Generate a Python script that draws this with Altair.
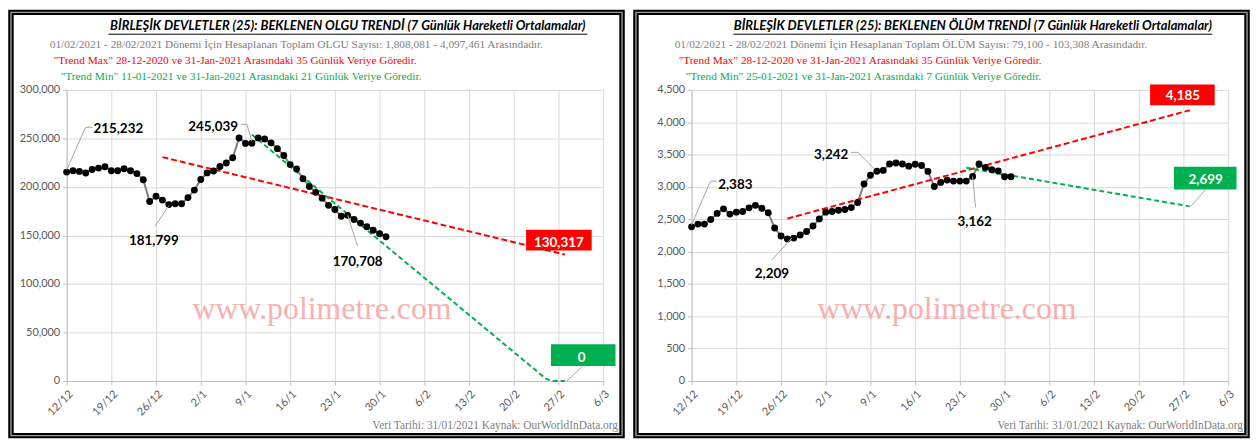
import altair as alt
import pandas as pd

# ---------------- data ----------------
DATES = [d.strftime("%Y-%m-%d") for d in pd.date_range("2020-12-12", "2021-01-31", freq="D")]

CASES = [215232, 216700, 216000, 214300, 218000, 219400, 220700, 216700, 216700, 218700,
         216700, 213700, 207400, 185000, 190400, 186400, 181799, 182700, 182700, 189000,
         196700, 207700, 214400, 216400, 221000, 224700, 230000, 250400, 244800, 245039,
         250400, 249400, 245400, 239400, 232400, 223000, 218400, 208400, 200400, 194400,
         188400, 181000, 176700, 169700, 170708, 166400, 162700, 159000, 155400, 151700,
         148700]

DEATHS = [2383, 2425, 2425, 2496, 2590, 2661, 2580, 2610, 2620, 2676,
          2715, 2670, 2600, 2365, 2241, 2195, 2209, 2256, 2310, 2395,
          2505, 2610, 2620, 2640, 2650, 2680, 2760, 3045, 3180, 3242,
          3255, 3355, 3370, 3355, 3321, 3350, 3330, 3240, 3006, 3070,
          3105, 3090, 3090, 3090, 3162, 3355, 3300, 3265, 3246, 3156,
          3156]

TICK_DATES = ["2020-12-12", "2020-12-19", "2020-12-26", "2021-01-02", "2021-01-09",
              "2021-01-16", "2021-01-23", "2021-01-30", "2021-02-06", "2021-02-13",
              "2021-02-20", "2021-02-27", "2021-03-06"]

CASE_MAX_DATES = ["2020-12-27", "2021-02-28"]
CASE_MAX = [230700, 130317]
CASE_MIN_DATES = ["2021-01-10", "2021-02-25", "2021-02-26", "2021-02-28"]
CASE_MIN = [254000, 2500, 0, 0]

DEATH_MAX_DATES = ["2020-12-27", "2021-02-28"]
DEATH_MAX = [2511, 4185]
DEATH_MIN_DATES = ["2021-01-24", "2021-02-28"]
DEATH_MIN = [3296, 2699]

LABEL_DAYS = ["2020-12-12", "2020-12-28", "2021-01-10", "2021-01-25"]

CASE_TICKS = [0, 50000, 100000, 150000, 200000, 250000, 300000]
DEATH_TICKS = [0, 500, 1000, 1500, 2000, 2500, 3000, 3500, 4000, 4500]

CASE_TEXTS = [
    "BİRLEŞİK DEVLETLER (25):  BEKLENEN OLGU TRENDİ (7 Günlük Hareketli Ortalamalar)",
    "01/02/2021 - 28/02/2021 Dönemi İçin Hesaplanan Toplam OLGU Sayısı: 1,808,081 - 4,097,461 Arasındadır.",
    "\"Trend Max\" 28-12-2020 ve 31-Jan-2021 Arasındaki 35 Günlük Veriye Göredir.",
    "\"Trend Min\" 11-01-2021 ve 31-Jan-2021 Arasındaki 21 Günlük Veriye Göredir.",
]
DEATH_TEXTS = [
    "BİRLEŞİK DEVLETLER (25):  BEKLENEN ÖLÜM TRENDİ (7 Günlük Hareketli Ortalamalar)",
    "01/02/2021 - 28/02/2021 Dönemi İçin Hesaplanan Toplam ÖLÜM Sayısı: 79,100 - 103,308 Arasındadır.",
    "\"Trend Max\" 28-12-2020 ve 31-Jan-2021 Arasındaki 35 Günlük Veriye Göredir.",
    "\"Trend Min\" 25-01-2021 ve 31-Jan-2021 Arasındaki 7 Günlük Veriye Göredir.",
]
FOOTER = "Veri Tarihi: 31/01/2021 Kaynak: OurWorldInData.org"
WATERMARK = "www.polimetre.com"

# ---------------- styles ----------------
W, H = 540, 293
RED, GREEN, GREY = "#ff0000", "#00b050", "#808080"
ONE = pd.DataFrame({"k": [0]})

CASE_LABEL_OFFSETS = [(52, -43), (-15, 37), (-39, -16), (10, 47)]
CASE_LEADERS = [[(0, -2), (19, -45), (26, -45)], [(0, 1), (-14, 22)],
                [(0, -2), (-5, -19), (-11, -19)], [(0, 0), (10, 31)]]
DEATH_LABEL_OFFSETS = [(44, -42), (-22, 36), (-46, -16), (2, 46)]
DEATH_LEADERS = [[(0, -2), (19, -46), (25, -46)], [(-2, 0), (-22, 22)],
                 [(-2, -2), (-19, -19), (-26, -19)], [(0, 0), (3, 31)]]

# box: (x1, x2, y1, y2, text dx, text dy, leader or None)
CASE_BOXES = {"max": (-39, 27, -25, -4, -6, -12, None),
              "min": (-14, 51, -37, -15, 17, -23, [(2, 0), (18, -15)])}
DEATH_BOXES = {"max": (-40, 25, -26, -5, -7, -14, None),
               "min": (-16, 47, -40, -17, 16, -27, [(1, 0), (16, -17)])}


def dt(s):
    y, m, d = (int(v) for v in s.split("-"))
    return alt.DateTime(year=y, month=m, date=d, utc=True)


def px_text(text, x, y, **kw):
    return alt.Chart(ONE).mark_text(text=text, **kw).encode(x=alt.value(x), y=alt.value(y))


def panel(values, ticks, ymax, max_dates, max_vals, min_dates, min_vals, texts,
          label_offsets, leaders, boxes):
    series = pd.DataFrame({"date": DATES, "value": values})
    X = alt.X("date:T",
              scale=alt.Scale(type="utc", domain=[dt(TICK_DATES[0]), dt(TICK_DATES[-1])], nice=False),
              axis=alt.Axis(values=[dt(s) for s in TICK_DATES], format="%-d/%-m", labelAngle=315,
                            labelFont="Lato", labelFontSize=11, labelColor="#595959",
                            grid=True, gridColor="#d9d9d9", domainColor="#bfbfbf",
                            tickColor="#bfbfbf", tickSize=4, labelPadding=3, title=None))
    Y = alt.Y("value:Q",
              scale=alt.Scale(domain=[0, ymax], nice=False, zero=True),
              axis=alt.Axis(values=ticks, format=",d", labelFont="Lato", labelFontSize=11,
                            labelColor="#595959", grid=True, gridColor="#d9d9d9",
                            domainColor="#bfbfbf", tickColor="#bfbfbf", tickSize=4,
                            labelPadding=3, title=None))

    layers = []
    layers.append(alt.Chart(series).mark_line(color="#7f7f7f", strokeWidth=2).encode(x=X, y=Y))

    # panel border (double line)
    layers.append(alt.Chart(ONE).mark_rect(fillOpacity=0, stroke="black", strokeWidth=5.5).encode(
        x=alt.value(-56), x2=alt.value(559), y=alt.value(-78), y2=alt.value(348)))
    layers.append(alt.Chart(ONE).mark_rect(fillOpacity=0, stroke="#9a9a9a", strokeWidth=1.4).encode(
        x=alt.value(-56), x2=alt.value(559), y=alt.value(-78), y2=alt.value(348)))
    # headings
    layers.append(px_text(texts[0], 283, -64, font="Lato", fontStyle="italic", fontWeight="bold",
                          fontSize=13, color="black", align="center", baseline="middle"))
    layers.append(alt.Chart(ONE).mark_rule(color="black", strokeWidth=1).encode(
        x=alt.value(42), x2=alt.value(524), y=alt.value(-56), y2=alt.value(-56)))
    layers.append(px_text(texts[1], -17, -45, font="Liberation Serif", fontSize=11.4, color=GREY,
                          align="left", baseline="middle"))
    layers.append(px_text(texts[2], -13, -29, font="Liberation Serif", fontSize=11.4, color=RED,
                          align="left", baseline="middle"))
    layers.append(px_text(texts[3], -6, -13, font="Liberation Serif", fontSize=11.4, color=GREEN,
                          align="left", baseline="middle"))
    layers.append(px_text(WATERMARK, 257, 221, font="Liberation Serif", fontSize=32, color="#f7a3a3",
                          opacity=0.85, align="center", baseline="middle"))
    layers.append(px_text(FOOTER, 555, 338, font="Liberation Serif", fontSize=11.5, color=GREY,
                          align="right", baseline="middle"))

    # trends
    tmax = pd.DataFrame({"date": max_dates, "value": max_vals})
    tmin = pd.DataFrame({"date": min_dates, "value": min_vals})
    layers.append(alt.Chart(tmax).mark_line(color=RED, strokeWidth=2, strokeDash=[6, 3]).encode(x=X, y=Y))
    layers.append(alt.Chart(tmin).mark_line(color=GREEN, strokeWidth=2, strokeDash=[5, 3]).encode(x=X, y=Y))

    # points
    layers.append(alt.Chart(series).mark_circle(size=48, color="black", opacity=1).encode(x=X, y=Y))

    # point labels
    for day, (dx, dy), segs in zip(LABEL_DAYS, label_offsets, leaders):
        row = series[series["date"] == day]
        for (a, b), (c, d) in zip(segs[:-1], segs[1:]):
            layers.append(alt.Chart(row).mark_rule(color="#a6a6a6", strokeWidth=1, xOffset=a, yOffset=b,
                                                   x2Offset=c, y2Offset=d).encode(
                x=X, x2=alt.X2("date"), y=Y, y2=alt.Y2("value")))
        layers.append(alt.Chart(row).mark_text(dx=dx, dy=dy, font="Lato", fontWeight="bold", fontSize=13.5,
                                               color="black", align="center", baseline="middle").encode(
            x=X, y=Y, text=alt.Text("value:Q", format=",")))

    # end boxes
    for key, frame, col in (("max", tmax, RED), ("min", tmin, GREEN)):
        row = frame.tail(1)
        x1, x2, y1, y2, tdx, tdy, lead = boxes[key]
        if lead:
            (a, b), (c, d) = lead
            layers.append(alt.Chart(row).mark_rule(color="#a6a6a6", strokeWidth=1, xOffset=a, yOffset=b,
                                                   x2Offset=c, y2Offset=d).encode(
                x=X, x2=alt.X2("date"), y=Y, y2=alt.Y2("value")))
        layers.append(alt.Chart(row).mark_rect(color=col, xOffset=x1, x2Offset=x2, yOffset=y1,
                                               y2Offset=y2).encode(
            x=X, x2=alt.X2("date"), y=Y, y2=alt.Y2("value")))
        layers.append(alt.Chart(row).mark_text(dx=tdx, dy=tdy, font="Lato", fontWeight="bold", fontSize=13.5,
                                               color="white", align="center", baseline="middle").encode(
            x=X, y=Y, text=alt.Text("value:Q", format=",")))

    return alt.layer(*layers).properties(width=W, height=H)


left = panel(CASES, CASE_TICKS, 300000, CASE_MAX_DATES, CASE_MAX, CASE_MIN_DATES, CASE_MIN,
             CASE_TEXTS, CASE_LABEL_OFFSETS, CASE_LEADERS, CASE_BOXES)
right = panel(DEATHS, DEATH_TICKS, 4500, DEATH_MAX_DATES, DEATH_MAX, DEATH_MIN_DATES, DEATH_MIN,
              DEATH_TEXTS, DEATH_LABEL_OFFSETS, DEATH_LEADERS, DEATH_BOXES)

chart = alt.hconcat(left, right, spacing=8).properties(padding=0, background="white").configure_view(stroke=None)
chart.save("out.html", embed_options={"renderer": "svg", "actions": False})
